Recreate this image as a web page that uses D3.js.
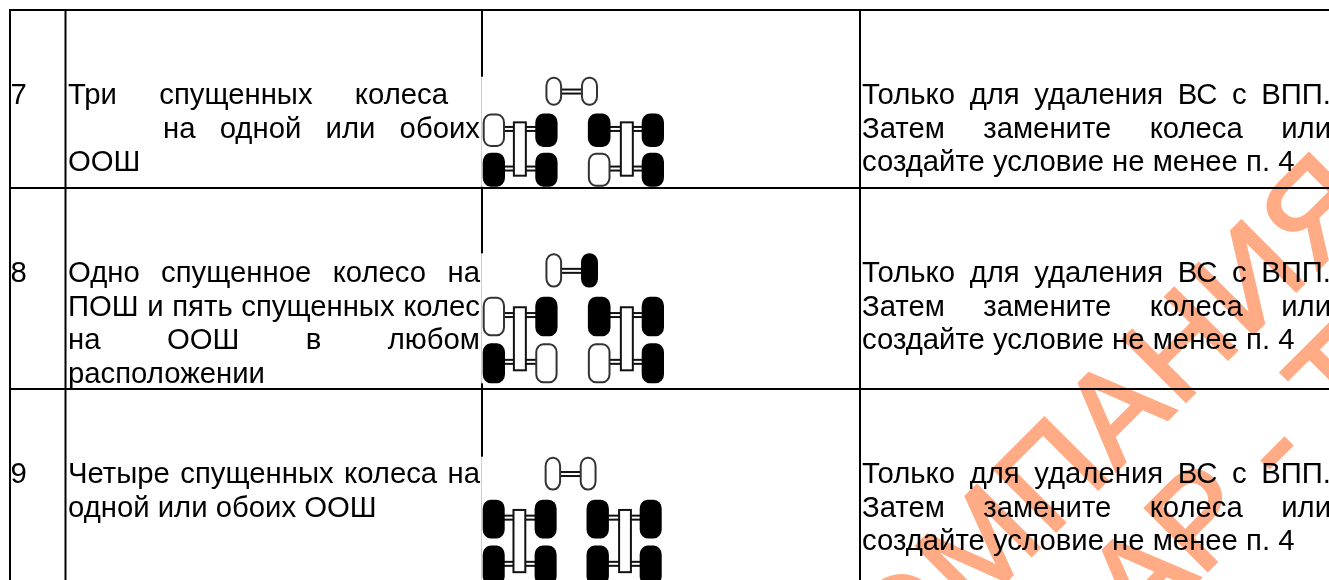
<!DOCTYPE html>
<html>
<head>
<meta charset="utf-8">
<script src="https://cdn.jsdelivr.net/npm/d3@7"></script>
<style>
  html, body { margin: 0; padding: 0; background: #fff; overflow: hidden; }
  text { font-family: "Liberation Sans", Arial, sans-serif; }
</style>
</head>
<body>
<div id="graf"></div>
<script>
// !DATOS
const rowNumbers = ['7', '8', '9']
const labelLines = [
  ['Три спущенных колеса', 'на одной или обоих', 'ООШ'],
  ['Одно спущенное колесо на', 'ПОШ и пять спущенных колес', 'на ООШ в любом', 'расположении'],
  ['Четыре спущенных колеса на', 'одной или обоих ООШ'],
]
const noteLines = ['Только для удаления ВС с ВПП.', 'Затем замените колеса или', 'создайте условие не менее п. 4']
const wheelNames = ['noseL', 'noseR', 'aTL', 'aTR', 'aBL', 'aBR', 'bTL', 'bTR', 'bBL', 'bBR']
// 1 = flat (black), 0 = inflated (outline)
const flatRow7 = [0, 0, 0, 1, 1, 1, 1, 1, 0, 1]
const flatRow8 = [0, 1, 0, 1, 1, 0, 1, 1, 0, 1]
const flatRow9 = [0, 0, 1, 1, 1, 1, 1, 1, 1, 1]
const flats = [flatRow7, flatRow8, flatRow9]
const watermarkLines = ['КОМПАНИЯ', 'АР - Т']

// !ESCALADORES
const anchoTotal = 1329
const altoTotal = 580
const colX = d3.scaleOrdinal().domain(['num', 'label', 'gear', 'note']).range([10, 65.5, 482, 860])
const rowY = d3.scaleOrdinal().domain(rowNumbers).range([10, 188, 389])
const baseY = d3.scaleOrdinal().domain(rowNumbers).range([104, 282, 483])
const lineH = 33.7
const fontSize = 29.3

// gear diagram scale per row (0-100 in both directions)
const gearX = d3.scaleOrdinal().domain(rowNumbers).range([[482.7, 664], [482.7, 664], [482.7, 661.7]])
const gearY = d3.scaleOrdinal().domain(rowNumbers).range([[76.7, 186.7], [253.3, 383.3], [456.7, 585]])

const wheelX = d3.scaleOrdinal().domain(wheelNames)
  .range([[34.6, 43.8], [54.2, 63.6], [0, 12.3], [29, 41.3], [0, 12.3], [29, 41.3], [58, 70.5], [87.7, 100], [58, 70.5], [87.7, 100]])
const wheelY = d3.scaleOrdinal().domain(wheelNames)
  .range([[0, 26.4], [0, 26.4], [33.5, 63.8], [33.5, 63.8], [69.2, 100], [69.2, 100], [33.5, 63.8], [33.5, 63.8], [69.2, 100], [69.2, 100]])

const svg = d3.select('#graf').append('svg')
  .attr('width', anchoTotal)
  .attr('height', altoTotal)
  .style('display', 'block')

// !TABLA
const grid = svg.append('g').attr('stroke', '#000').attr('stroke-width', 2)
grid.selectAll('line.h').data(rowNumbers).enter().append('line')
  .attr('class', 'h')
  .attr('x1', colX('num') - 1).attr('x2', anchoTotal)
  .attr('y1', (d) => rowY(d)).attr('y2', (d) => rowY(d))
grid.selectAll('line.v').data(colX.domain()).enter().append('line')
  .attr('class', 'v')
  .attr('x1', (d) => colX(d)).attr('x2', (d) => colX(d))
  .attr('y1', rowY('7')).attr('y2', altoTotal)

// !TEXTO (justificado a mano)
function drawLine(parent, txt, left, right, y) {
  const words = txt.split(' ')
  const nodes = words.map((w) => parent.append('text')
    .attr('y', y).attr('font-size', fontSize).attr('fill', '#000').text(w))
  const widths = nodes.map((n) => n.node().getComputedTextLength())
  const gap = right == null ? fontSize * 0.278 : (right - left - d3.sum(widths)) / Math.max(1, words.length - 1)
  let cur = left
  nodes.forEach((n, i) => {
    n.attr('x', cur)
    cur += widths[i] + gap
  })
}

const textLayer = svg.append('g')
const labelLeft = 68
const labelRight = 480
const noteLeft = 862
const noteRight = 1331
const labelExtent = [
  [[labelLeft, 448], [163, labelRight], [labelLeft, null]],
  [[labelLeft, labelRight], [labelLeft, labelRight], [labelLeft, labelRight], [labelLeft, null]],
  [[labelLeft, labelRight], [labelLeft, null]],
]
const noteExtent = [[noteLeft, noteRight], [noteLeft, noteRight], [noteLeft, null]]

rowNumbers.forEach((n, i) => {
  drawLine(textLayer, n, 10.5, null, baseY(n))
  labelLines[i].forEach((l, j) => {
    drawLine(textLayer, l, labelExtent[i][j][0], labelExtent[i][j][1], baseY(n) + j * lineH)
  })
  noteLines.forEach((l, j) => {
    drawLine(textLayer, l, noteExtent[j][0], noteExtent[j][1], baseY(n) + j * lineH)
  })
})

// !RUEDAS
rowNumbers.forEach((n, i) => {
  const x = d3.scaleLinear().domain([0, 100]).range(gearX(n))
  const y = d3.scaleLinear().domain([0, 100]).range(gearY(n))
  const g = svg.append('g')

  g.append('rect')
    .attr('x', x(0) - 1.5).attr('y', y(0))
    .attr('width', x(100) - x(0) + 2).attr('height', y(100) - y(0))
    .attr('fill', '#fff')

  // ejes dobles
  const axles = [
    [38, 60, 13.5], [5, 36, 47.5], [5, 36, 83.5], [64, 94, 47.5], [64, 94, 83.5],
  ]
  axles.forEach(([a, b, c]) => {
    g.append('rect').attr('x', x(a)).attr('y', y(c) - 3).attr('width', x(b) - x(a)).attr('height', 6).attr('fill', '#111')
    g.append('rect').attr('x', x(a)).attr('y', y(c) - 1).attr('width', x(b) - x(a)).attr('height', 2).attr('fill', '#fff')
  })

  // riostras
  const struts = [17.2, 76.2]
  g.selectAll('rect.strut').data(struts).enter().append('rect')
    .attr('class', 'strut')
    .attr('x', (d) => x(d)).attr('y', y(41.5))
    .attr('width', x(6.6) - x(0)).attr('height', y(90) - y(41.5))
    .attr('fill', '#fff').attr('stroke', '#111').attr('stroke-width', 2)

  g.selectAll('rect.wheel').data(wheelNames).enter().append('rect')
    .attr('class', 'wheel')
    .attr('x', (d) => x(wheelX(d)[0]) + 1)
    .attr('y', (d) => y(wheelY(d)[0]) + 1)
    .attr('width', (d) => x(wheelX(d)[1]) - x(wheelX(d)[0]) - 2)
    .attr('height', (d) => y(wheelY(d)[1]) - y(wheelY(d)[0]) - 2)
    .attr('rx', 7).attr('ry', 8)
    .attr('fill', (d, k) => flats[i][k] ? '#000' : '#fff')
    .attr('stroke', (d, k) => flats[i][k] ? '#000' : '#333')
    .attr('stroke-width', 2)
})

// !MARCA DE AGUA
const mark = svg.append('g').style('mix-blend-mode', 'multiply')
const markPos = [[845, 742], [1140, 638]]
const markSpacing = [3, 0]
watermarkLines.forEach((t, i) => {
  mark.append('text')
    .attr('transform', `translate(${markPos[i][0]}, ${markPos[i][1]}) rotate(-45)`)
    .attr('font-size', 128)
    .attr('letter-spacing', markSpacing[i])
    .attr('fill', '#ffab85')
    .attr('stroke', '#ffab85')
    .attr('stroke-width', 3)
    .attr('stroke-linejoin', 'miter')
    .text(t)
})
</script>
</body>
</html>
